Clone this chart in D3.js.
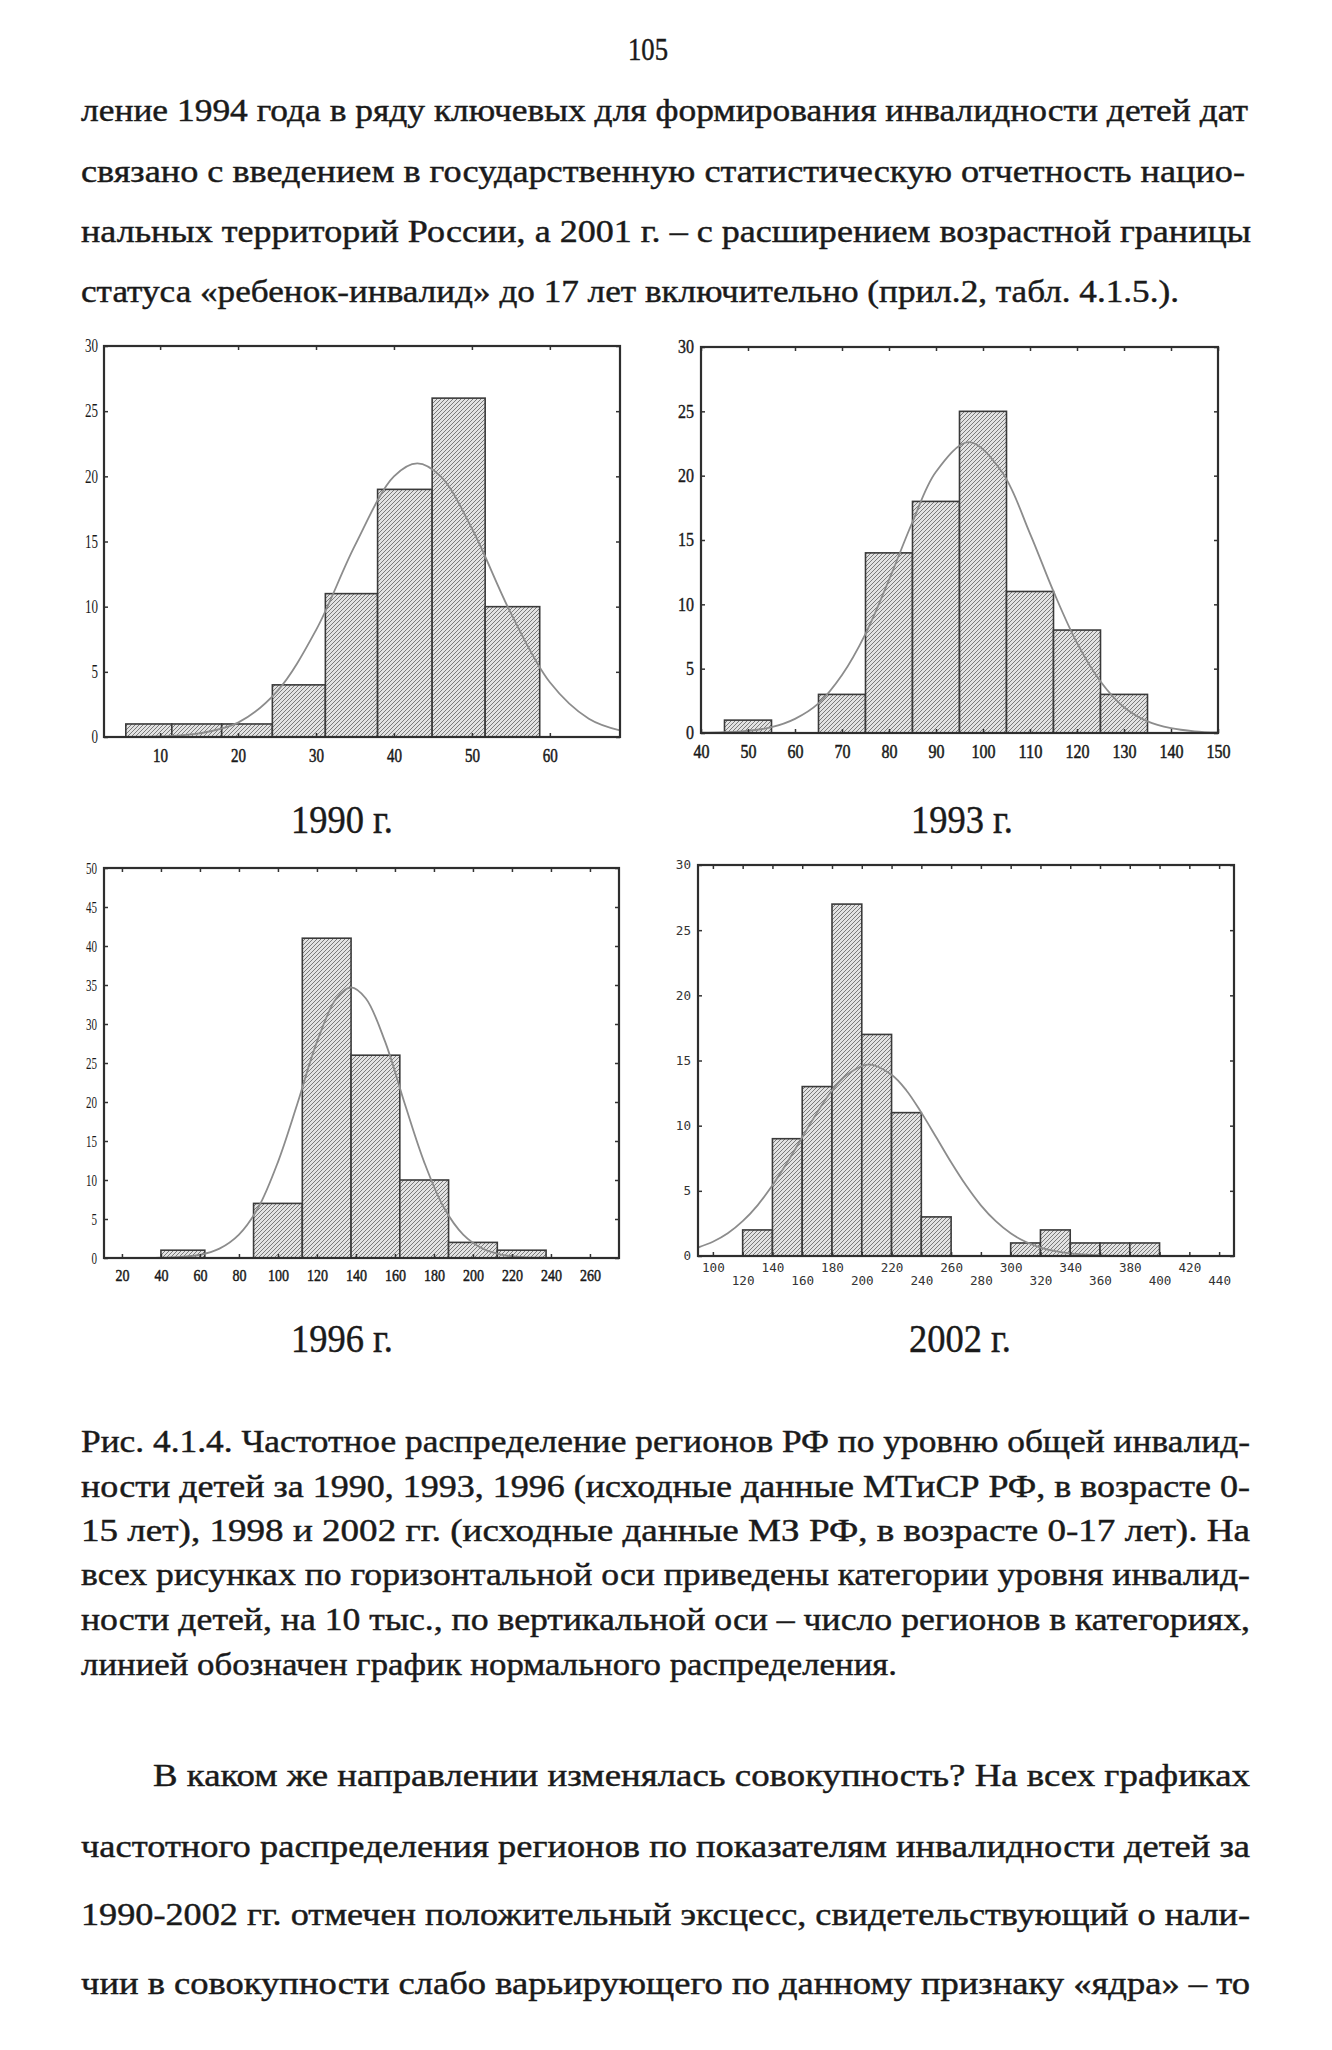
<!DOCTYPE html>
<html>
<head>
<meta charset="utf-8">
<script src="https://cdn.jsdelivr.net/npm/d3@7"></script>
<style>
  body { margin: 0; background: #fff; }
</style>
</head>
<body>
<div id="page"></div>
<script>
// Page text
const pageNumber = '105';
const introLines = [
  'ление 1994 года в ряду ключевых для формирования инвалидности детей дат',
  'связано с введением в государственную статистическую отчетность нацио-',
  'нальных территорий России, а 2001 г. – с  расширением возрастной границы',
  'статуса «ребенок-инвалид» до 17 лет включительно (прил.2, табл. 4.1.5.).'
];
const panelTitles = ['1990 г.', '1993 г.', '1996 г.', '2002 г.'];
const captionLines = [
  'Рис. 4.1.4. Частотное распределение регионов РФ по уровню общей инвалид-',
  'ности детей за 1990, 1993, 1996 (исходные данные МТиСР РФ, в возрасте 0-',
  '15 лет), 1998 и 2002 гг. (исходные данные МЗ РФ, в возрасте 0-17 лет). На',
  'всех рисунках по горизонтальной оси приведены категории уровня инвалид-',
  'ности детей, на 10 тыс., по вертикальной оси  – число регионов в категориях,',
  'линией обозначен график нормального распределения.'
];
const paragraphLines = [
  'В каком же направлении изменялась совокупность? На всех графиках',
  'частотного распределения регионов по показателям инвалидности детей за',
  '1990-2002 гг. отмечен положительный эксцесс, свидетельствующий о нали-',
  'чии в совокупности слабо варьирующего по данному признаку  «ядра» – то'
];

// 1990
const edges1990 = [5.6, 11.5, 17.9, 24.4, 31.2, 37.9, 44.9, 51.7, 58.7];
const counts1990 = [1, 1, 1, 4, 11, 19, 26, 10];
const normX1990 = [3, 10, 15, 20, 25, 30, 35, 40, 43, 46, 50, 55, 60, 65, 69];
const normY1990 = [0.01, 0.05, 0.27, 1.1, 3.5, 8.2, 14.7, 20.0, 21.0, 20.0, 16.0, 9.5, 4.2, 1.4, 0.5];
const xTicks1990 = [10, 20, 30, 40, 50, 60];
const yTicks1990 = [0, 5, 10, 15, 20, 25, 30];

// 1993
const edges1993 = [45, 55, 65, 75, 85, 95, 105, 115, 125, 135];
const counts1993 = [1, 0, 3, 14, 18, 25, 11, 8, 3];
const normX1993 = [40, 45, 50, 55, 60, 65, 70, 75, 80, 85, 90, 97, 104, 110, 115, 120, 125, 130, 135, 140, 145, 150];
const normY1993 = [0.02, 0.06, 0.17, 0.45, 1.1, 2.3, 4.5, 7.7, 11.9, 16.4, 20.3, 22.6, 20.3, 15.5, 11.0, 7.0, 4.0, 2.0, 0.9, 0.37, 0.13, 0.04];
const xTicks1993 = [40, 50, 60, 70, 80, 90, 100, 110, 120, 130, 140, 150];
const yTicks1993 = [0, 5, 10, 15, 20, 25, 30];

// 1996
const edges1996 = [40, 62.5, 87.5, 112.5, 137.5, 162.5, 187.5, 212.5, 237.5];
const counts1996 = [1, 0, 7, 41, 26, 10, 2, 1];
const normX1996 = [11, 40, 60, 70, 80, 90, 100, 110, 120, 130, 137.5, 145, 155, 165, 175, 185, 195, 205, 215, 225, 240, 275];
const normY1996 = [0, 0.03, 0.41, 1.2, 3.0, 6.5, 12.3, 19.8, 27.7, 33.3, 34.7, 33.3, 27.7, 19.8, 12.3, 6.5, 3.0, 1.2, 0.41, 0.12, 0.02, 0];
const xTicks1996 = [20, 40, 60, 80, 100, 120, 140, 160, 180, 200, 220, 240, 260];
const yTicks1996 = [0, 5, 10, 15, 20, 25, 30, 35, 40, 45, 50];

// 2002
const edges2002 = [120, 140, 160, 180, 200, 220, 240, 260, 280, 300, 320, 340, 360, 380, 400];
const counts2002 = [2, 9, 13, 27, 17, 11, 3, 0, 0, 1, 2, 1, 1, 1];
const normX2002 = [90, 100, 110, 120, 130, 140, 150, 160, 170, 180, 190, 205, 220, 230, 240, 250, 260, 270, 280, 290, 300, 310, 320, 330, 340, 360, 380, 400, 450];
const normY2002 = [0.65, 1.09, 1.74, 2.67, 3.89, 5.42, 7.19, 9.11, 11.0, 12.7, 13.9, 14.7, 13.9, 12.7, 11.0, 9.11, 7.19, 5.42, 3.89, 2.67, 1.74, 1.09, 0.65, 0.37, 0.2, 0.05, 0.01, 0, 0];
const xTicks2002 = [100, 120, 140, 160, 180, 200, 220, 240, 260, 280, 300, 320, 340, 360, 380, 400, 420, 440];
const yTicks2002 = [0, 5, 10, 15, 20, 25, 30];

const W = 1332, H = 2050;
const serif = "'Liberation Serif', 'DejaVu Serif', serif";
const mono = "'DejaVu Sans Mono', 'Liberation Mono', monospace";
const ink = '#1a1a1a';

const svg = d3.select('#page').append('svg')
    .attr('width', W)
    .attr('height', H);

svg.append('rect').attr('width', W).attr('height', H).attr('fill', '#fff');

// hatch fill used by all bars
const defs = svg.append('defs');
const hatch = defs.append('pattern')
    .attr('id', 'hatch')
    .attr('patternUnits', 'userSpaceOnUse')
    .attr('width', 4).attr('height', 4);
hatch.append('rect').attr('width', 4).attr('height', 4).attr('fill', '#e2e2e2');
hatch.append('path')
    .attr('d', 'M-1,1 l2,-2 M0,4 l4,-4 M3,5 l2,-2')
    .attr('stroke', '#6e6e6e').attr('stroke-width', 0.9);

function textLine(str, x, y, size, width, anchor) {
    const t = svg.append('text')
        .attr('x', x).attr('y', y)
        .attr('font-family', serif)
        .attr('font-size', size)
        .attr('fill', ink)
        .attr('stroke', ink)
        .attr('stroke-width', 0.45)
        .attr('text-anchor', anchor || 'start')
        .text(str);
    if (width) t.attr('textLength', width).attr('lengthAdjust', 'spacingAndGlyphs');
    return t;
}

// page number and text above the figure
textLine(pageNumber, 648, 60, 31, 40, 'middle');
const introY = [121, 182, 242, 302];
const introW = [1167, 1164, 1170, 1098];
introLines.forEach((s, i) => textLine(s, 81, introY[i], 32, introW[i]));

// panels
const panels = [
    { id: 1, edges: edges1990, counts: counts1990, nx: normX1990, ny: normY1990, xt: xTicks1990, yt: yTicks1990,
      left: 104, right: 620, top: 346, bottom: 737, xDomain: [2.8, 69], yDomain: [0, 30],
      font: serif, fsize: 18, xcw: 7.5, ycw: 6.5, xpad: 12, ypad: 6, xbold: true },
    { id: 2, edges: edges1993, counts: counts1993, nx: normX1993, ny: normY1993, xt: xTicks1993, yt: yTicks1993,
      left: 701, right: 1218, top: 347, bottom: 733, xDomain: [40, 150], yDomain: [0, 30],
      font: serif, fsize: 18, xcw: 8, ycw: 8, xpad: 12, ypad: 7, xbold: true, ybold: true },
    { id: 3, edges: edges1996, counts: counts1996, nx: normX1996, ny: normY1996, xt: xTicks1996, yt: yTicks1996,
      left: 104, right: 619, top: 868, bottom: 1258, xDomain: [10.8, 274.9], yDomain: [0, 50],
      font: serif, fsize: 17, xcw: 7, ycw: 5.5, xpad: 11, ypad: 7, xbold: true },
    { id: 4, edges: edges2002, counts: counts2002, nx: normX2002, ny: normY2002, xt: xTicks2002, yt: yTicks2002,
      left: 698, right: 1234, top: 865, bottom: 1256, xDomain: [90, 450], yDomain: [0, 30],
      font: mono, fsize: 12, xcw: 7.6, ycw: 7.6, xpad: 0, ypad: 7, twoRows: true }
];

function drawPanel(p) {
    const x = d3.scaleLinear().domain(p.xDomain).range([p.left, p.right]);
    const y = d3.scaleLinear().domain(p.yDomain).range([p.bottom, p.top]);
    const g = svg.append('g');

    defs.append('clipPath').attr('id', 'clip' + p.id)
        .append('rect')
        .attr('x', p.left).attr('y', p.top)
        .attr('width', p.right - p.left).attr('height', p.bottom - p.top);

    const bins = p.counts.map((c, i) => ({ x0: p.edges[i], x1: p.edges[i + 1], c: c }))
        .filter(d => d.c > 0);

    g.selectAll('.bar')
        .data(bins)
        .enter()
        .append('rect')
        .attr('class', 'bar')
        .attr('x', d => x(d.x0))
        .attr('y', d => y(d.c))
        .attr('width', d => x(d.x1) - x(d.x0))
        .attr('height', d => y(0) - y(d.c))
        .attr('fill', 'url(#hatch)')
        .attr('stroke', '#3a3a3a')
        .attr('stroke-width', 1.6);

    // normal curve
    const pts = p.nx.map((v, i) => [v, p.ny[i]]);
    g.append('path')
        .datum(pts)
        .attr('clip-path', 'url(#clip' + p.id + ')')
        .attr('fill', 'none')
        .attr('stroke', '#8c8c8c')
        .attr('stroke-width', 1.8)
        .attr('d', d3.line().x(d => x(d[0])).y(d => y(d[1])).curve(d3.curveCatmullRom.alpha(0.5)));

    // axes, ticks inward on all four sides
    const xa = g.append('g')
        .attr('transform', `translate(0, ${p.bottom})`)
        .call(d3.axisBottom(x).tickValues(p.xt).tickSize(-4).tickPadding(p.xpad).tickFormat(d3.format('d')));
    const ya = g.append('g')
        .attr('transform', `translate(${p.left}, 0)`)
        .call(d3.axisLeft(y).tickValues(p.yt).tickSize(-4).tickPadding(p.ypad).tickFormat(d3.format('d')));
    g.append('g')
        .attr('transform', `translate(0, ${p.top})`)
        .call(d3.axisTop(x).tickValues(p.xt).tickSize(-4).tickFormat(''));
    g.append('g')
        .attr('transform', `translate(${p.right}, 0)`)
        .call(d3.axisRight(y).tickValues(p.yt).tickSize(-4).tickFormat(''));

    g.selectAll('.domain').remove();
    g.selectAll('.tick line').attr('stroke', '#333').attr('stroke-width', 1.5);

    [xa, ya].forEach(a => a.selectAll('text')
        .attr('font-family', p.font)
        .attr('font-size', p.fsize)
        .attr('fill', p.twoRows ? '#333' : ink)
        .attr('textLength', d => String(d).length * (a === xa ? p.xcw : p.ycw))
        .attr('lengthAdjust', 'spacingAndGlyphs'));
    if (p.xbold) xa.selectAll('text').attr('stroke', ink).attr('stroke-width', 0.5);
    if (p.ybold) ya.selectAll('text').attr('stroke', ink).attr('stroke-width', 0.4);
    if (p.twoRows) {
        xa.selectAll('text')
            .attr('dy', null)
            .attr('y', (d, i) => i % 2 === 0 ? 16 : 29);
    }

    // frame
    g.append('rect')
        .attr('x', p.left).attr('y', p.top)
        .attr('width', p.right - p.left).attr('height', p.bottom - p.top)
        .attr('fill', 'none')
        .attr('stroke', '#2e2e2e')
        .attr('stroke-width', 2.2);
}

panels.forEach(drawPanel);

// panel titles
const titlePos = [[342, 833], [962, 833], [342, 1352], [960, 1352]];
panelTitles.forEach((s, i) => textLine(s, titlePos[i][0], titlePos[i][1], 40, 102, 'middle'));

// figure caption
const capY = [1452, 1497, 1541, 1585, 1630, 1675];
const capW = [1169, 1169, 1169, 1169, 1169, 816];
captionLines.forEach((s, i) => textLine(s, 81, capY[i], 32, capW[i]));

// following paragraph
const parY = [1786, 1857, 1925, 1994];
const parX = [153, 81, 81, 81];
paragraphLines.forEach((s, i) => textLine(s, parX[i], parY[i], 32, 1250 - parX[i]));
</script>
</body>
</html>
